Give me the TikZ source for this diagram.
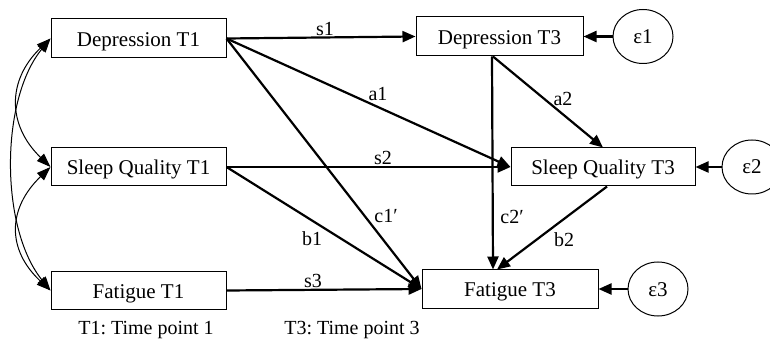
\documentclass[tikz,border=0pt]{standalone}
\usepackage{fontspec}
\setmainfont{Liberation Serif}
\usetikzlibrary{arrows.meta,shapes.geometric,calc}
\begin{document}
\frenchspacing
\begin{tikzpicture}[x=1pt,y=-1pt,
  box/.style={draw, line width=1pt, inner sep=0pt, text height=16pt, text depth=0pt, font=\fontsize{21}{23}\selectfont},
  err/.style={draw, ellipse, line width=1pt, minimum width=60pt, minimum height=54pt, inner sep=0pt, text height=14pt, text depth=0pt, font=\fontsize{21}{23}\selectfont},
  edgearr/.style={line width=2.2pt, -{Triangle[length=13pt,width=11pt]}},
  cov/.style={line width=1pt, {Triangle[length=14pt,width=10pt]}-{Triangle[length=14pt,width=10pt]}},
  lbl/.style={font=\fontsize{20}{22}\selectfont, inner sep=0pt},
]
\useasboundingbox (0,0) rectangle (770,344);
% boxes
\node[box, minimum width=175pt, minimum height=39pt] (d1) at (138.5,38.5) {Depression T1};
\node[box, minimum width=175pt, minimum height=38pt] (s1) at (138.5,167) {Sleep Quality T1};
\node[box, minimum width=175pt, minimum height=37pt] (f1) at (138.5,290.5) {Fatigue T1};
\node[box, minimum width=167pt, minimum height=39pt] (d3) at (499.5,36.5) {Depression T3};
\node[box, minimum width=184pt, minimum height=38pt] (s3) at (603,167) {Sleep Quality T3};
\node[box, minimum width=176pt, minimum height=38pt] (f3) at (510,289) {Fatigue T3};
% errors
\node[err] (e1) at (643,36.5) {ε1};
\node[err] (e2) at (752,167) {ε2};
\node[err] (e3) at (658,289) {ε3};
% paths
\draw[edgearr] (d1.east) -- (d3.west);
\draw[edgearr] (d1.east) -- (s3.west);
\draw[edgearr] (d1.east) -- (f3.west);
\draw[edgearr] (s1.east) -- (s3.west);
\draw[edgearr] (s1.east) -- (f3.west);
\draw[edgearr] (f1.east) -- (f3.west);
\draw[edgearr] ([xshift=-6.5pt]d3.south) -- (s3.north);
\draw[edgearr] ([xshift=-7.5pt]d3.south) -- ([xshift=-17pt]f3.north);
\draw[edgearr] ([xshift=4pt]s3.south) -- ([xshift=-13pt]f3.north);
\draw[edgearr] (e1) -- (d3.east);
\draw[edgearr] (e2) -- (s3.east);
\draw[edgearr] (e3) -- (f3.east);
% covariances
\draw[cov] (d1.west) .. controls (7,80) and (7,125) .. (s1.west);
\draw[cov] (s1.west) .. controls (7,209) and (7,250) .. (f1.west);
\draw[cov] (d1.west) .. controls (0,100) and (0,228) .. (f1.west);
% labels
\node[lbl] (ls1) at (325,29) {s1};
\node[lbl] (la1) at (378,94) {a1};
\node[lbl] (ls2) at (383,158) {s2};
\node[lbl] (lc1) at (386,216) {c1′};
\node[lbl] (lb1) at (312,239) {b1};
\node[lbl] (ls3) at (313,281) {s3};
\node[lbl] (la2) at (563,99) {a2};
\node[lbl] (lc2) at (512,217) {c2′};
\node[lbl] (lb2) at (564,240) {b2};
\node[lbl, anchor=base] (n1) at (146,334) {T1: Time point 1};
\node[lbl, anchor=base] (n3) at (352,334) {T3: Time point 3};
\end{tikzpicture}
\end{document}
